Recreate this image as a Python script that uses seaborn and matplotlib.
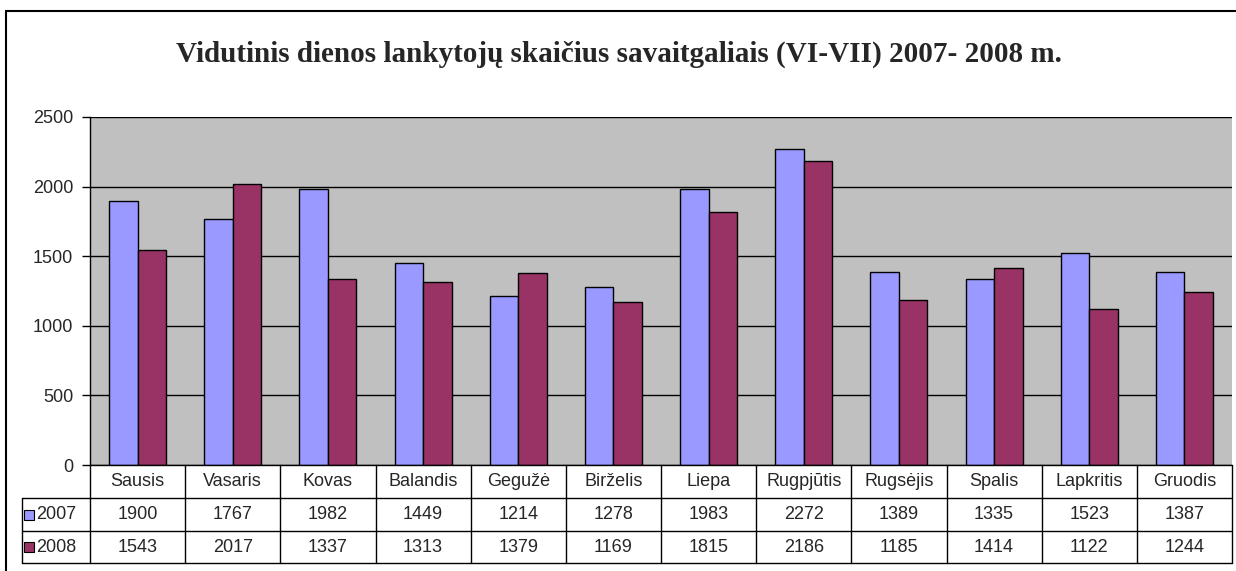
import matplotlib
matplotlib.use("Agg")
import matplotlib.pyplot as plt
import seaborn as sns
import pandas as pd
from matplotlib.lines import Line2D
from matplotlib.patches import Rectangle

months = ["Sausis", "Vasaris", "Kovas", "Balandis", "Gegužė", "Birželis",
          "Liepa", "Rugpjūtis", "Rugsėjis", "Spalis", "Lapkritis", "Gruodis"]
years = ["2007", "2008"]
v2007 = [1900, 1767, 1982, 1449, 1214, 1278, 1983, 2272, 1389, 1335, 1523, 1387]
v2008 = [1543, 2017, 1337, 1313, 1379, 1169, 1815, 2186, 1185, 1414, 1122, 1244]
colors = ["#9999FF", "#993366"]

df = pd.DataFrame({
    "month": months * 2,
    "year": [years[0]] * len(months) + [years[1]] * len(months),
    "value": v2007 + v2008,
})

sns.set_style("white")
plt.rcParams["font.family"] = ["Liberation Sans", "DejaVu Sans"]

W, H = 1236, 571
fs = 13
fig = plt.figure(figsize=(W / 100, H / 100), dpi=100)
ax = fig.add_axes([90 / W, 1 - 465 / H, (1232 - 90) / W, (465 - 117) / H])

sns.barplot(data=df, x="month", y="value", hue="year", palette=colors,
            width=0.6, edgecolor="black", linewidth=1, saturation=1,
            order=months, ax=ax, legend=False, zorder=3)

ax.set_facecolor("#C0C0C0")
ax.set_xlim(-0.5, len(months) - 0.5)
ax.set_ylim(0, 2500)
ax.set_yticks(range(0, 2501, 500))
ax.yaxis.grid(True, color="black", linewidth=1, zorder=0)
ax.set_axisbelow(True)
ax.set_xticks([])
ax.set_xlabel("")
ax.set_ylabel("")
ax.tick_params(axis="y", length=6, width=1, color="black", labelsize=fs,
               left=True, pad=6)
for side in ["top", "right", "bottom"]:
    ax.spines[side].set_visible(False)
ax.spines["left"].set_color("black")
ax.spines["left"].set_linewidth(1)
ax.spines["left"].set_zorder(5)

# data table under the axis
def fy(py):
    return 1 - py / H

def fx(px):
    return px / W

rows_y = [465, 498, 531, 563]
col_x = [90 + i * (1232 - 90) / len(months) for i in range(len(months) + 1)]
left_x = 22
lc = "black"
lw = 1
fig.add_artist(Line2D([fx(col_x[0]), fx(col_x[-1])], [fy(rows_y[0])] * 2, color=lc, lw=lw))
for yy in rows_y[1:]:
    fig.add_artist(Line2D([fx(left_x), fx(col_x[-1])], [fy(yy)] * 2, color=lc, lw=lw))
fig.add_artist(Line2D([fx(left_x)] * 2, [fy(rows_y[1]), fy(rows_y[3])], color=lc, lw=lw))
for xx in col_x:
    fig.add_artist(Line2D([fx(xx)] * 2, [fy(rows_y[0]), fy(rows_y[3])], color=lc, lw=lw))

for i, m in enumerate(months):
    cx = (col_x[i] + col_x[i + 1]) / 2
    fig.text(fx(cx), fy((rows_y[0] + rows_y[1]) / 2), m, ha="center", va="center", fontsize=fs)
    for r, vals in enumerate([v2007, v2008]):
        fig.text(fx(cx), fy((rows_y[r + 1] + rows_y[r + 2]) / 2), str(vals[i]),
                 ha="center", va="center", fontsize=fs)

for r, (yr, c) in enumerate(zip(years, colors)):
    cy = (rows_y[r + 1] + rows_y[r + 2]) / 2
    fig.add_artist(Rectangle((fx(24), fy(cy + 5)), 10 / W, 10 / H, facecolor=c,
                             edgecolor="black", lw=0.8, transform=fig.transFigure))
    fig.text(fx(36), fy(cy), yr, ha="left", va="center", fontsize=fs)

# outer frame
fig.add_artist(Line2D([fx(6), fx(6)], [fy(11), 0], color="black", lw=1.5))
fig.add_artist(Line2D([fx(6), 1], [fy(11), fy(11)], color="black", lw=1.5))

fig.text(fx(619), fy(62), "Vidutinis dienos lankytojų skaičius savaitgaliais (VI-VII) 2007- 2008 m.",
         ha="center", va="baseline", fontsize=21, fontweight="bold",
         family=["Liberation Serif", "DejaVu Serif"])

fig.savefig("out.png", dpi=100)
